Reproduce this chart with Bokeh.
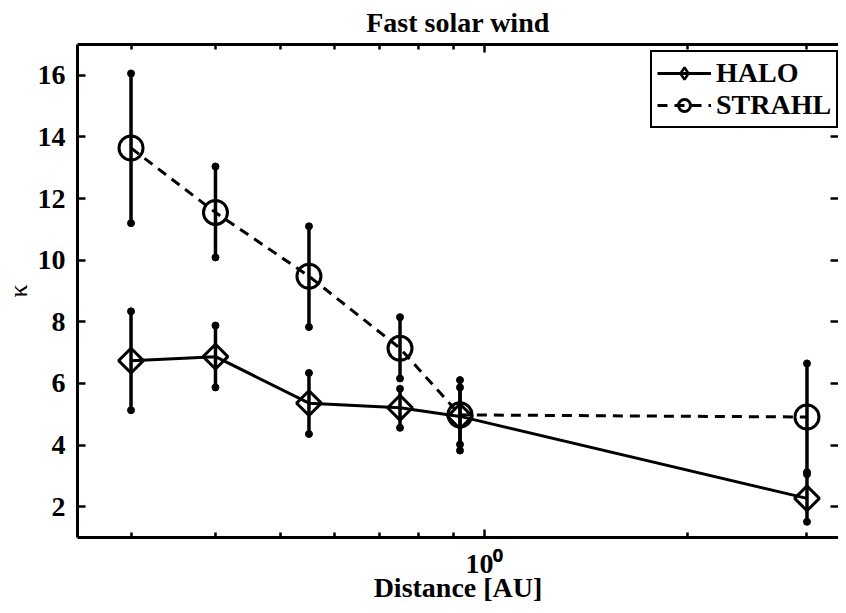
import math
from bokeh.plotting import figure
from bokeh.models import (FixedTicker, LinearAxis, LogAxis, Legend,
                          LegendItem, Range1d, ColumnDataSource)
from bokeh.embed import file_html
from bokeh.resources import INLINE

# ---------------- data ----------------
title_text = "Fast solar wind"
x_label_text = "Distance [AU]"
y_label_text = "\u03ba"
series_names = ["HALO", "STRAHL"]

distance = [0.3, 0.4, 0.55, 0.75, 0.92, 3.0]

halo_kappa = [6.74, 6.87, 5.36, 5.21, 4.93, 2.27]
halo_lower = [5.13, 5.87, 4.36, 4.56, 4.02, 1.51]
halo_upper = [8.34, 7.88, 6.34, 5.83, 5.87, 3.05]

strahl_kappa = [13.64, 11.55, 9.48, 7.14, 4.98, 4.91]
strahl_lower = [11.20, 10.09, 7.83, 6.16, 3.82, 3.12]
strahl_upper = [16.06, 13.04, 11.10, 8.15, 6.11, 6.65]

y_ticks = [2, 4, 6, 8, 10, 12, 14, 16]
x_major_ticks = [1]
x_major_labels = ["10\u2070"]
x_minor_ticks = [0.3, 0.4, 0.5, 0.6, 0.7, 0.8, 0.9, 2, 3]

x_start, x_end = 0.25, 3.34
y_start, y_end = 1, 17

FONT = "Liberation Serif"
FS = "28px"

p = figure(width=838, height=605, x_axis_type="log",
           x_range=Range1d(x_start, x_end), y_range=Range1d(y_start, y_end),
           output_backend="svg", toolbar_location=None,
           min_border_left=76, min_border_right=0,
           min_border_top=44, min_border_bottom=68)
p.outline_line_color = None
p.grid.visible = False
p.background_fill_color = "white"
p.border_fill_color = "white"

p.title.text = title_text
p.title.align = "center"
p.title.vertical_align = "top"
p.title.text_font = FONT
p.title.text_font_style = "bold"
p.title.text_font_size = FS
p.title.text_color = "black"
p.title.standoff = 10


def style_axis(ax, show_labels=True, show_line=True):
    ax.axis_line_width = 3
    ax.axis_line_color = "black" if show_line else None
    ax.major_tick_in = 8
    ax.major_tick_out = 0
    ax.minor_tick_in = 5
    ax.minor_tick_out = 0
    ax.major_tick_line_width = 2.5
    ax.minor_tick_line_width = 2.5
    ax.major_tick_line_color = "black"
    ax.minor_tick_line_color = "black"
    ax.major_label_text_font = FONT
    ax.major_label_text_font_style = "bold"
    ax.major_label_text_color = "black"
    ax.axis_label_text_font = FONT
    ax.axis_label_text_font_style = "bold"
    ax.axis_label_text_font_size = FS
    ax.axis_label_text_color = "black"
    if show_labels:
        ax.major_label_text_font_size = FS
    else:
        ax.major_label_text_font_size = "1px"
        ax.major_label_text_alpha = 0
        ax.major_label_standoff = 0


xticker = FixedTicker(ticks=x_major_ticks, minor_ticks=x_minor_ticks)
yticker = FixedTicker(ticks=y_ticks, minor_ticks=[])

xb = p.xaxis[0]
xb.ticker = xticker
style_axis(xb)
xb.major_label_overrides = dict(zip(x_major_ticks, x_major_labels))
xb.major_label_standoff = 10
xb.axis_label = x_label_text
xb.axis_label_standoff = -10

yl = p.yaxis[0]
yl.ticker = yticker
style_axis(yl)
yl.major_label_standoff = 12
yl.axis_label = y_label_text
yl.axis_label_standoff = 2
yl.axis_label_text_font_style = "normal"
yl.axis_label_text_font_size = "26px"

xt = LogAxis(ticker=FixedTicker(ticks=x_major_ticks, minor_ticks=x_minor_ticks))
style_axis(xt, show_labels=False)
p.add_layout(xt, "above")

yr = LinearAxis(ticker=FixedTicker(ticks=y_ticks, minor_ticks=[]))
style_axis(yr, show_labels=False, show_line=False)
p.add_layout(yr, "right")

# ---------------- error bars ----------------
for lo, hi in ((halo_lower, halo_upper), (strahl_lower, strahl_upper)):
    p.segment(x0=distance, y0=lo, x1=distance, y1=hi,
              line_color="black", line_width=3.5)
    p.scatter(distance + distance, lo + hi, marker="circle", size=7,
              fill_color="black", line_color="black")

# ---------------- series ----------------
halo_src = ColumnDataSource(dict(x=distance, y=halo_kappa))
halo_line = p.line("x", "y", source=halo_src, line_color="black", line_width=3)
halo_mark = p.scatter("x", "y", source=halo_src, marker="square",
                      angle=math.pi / 4, size=17.5, fill_color=None,
                      line_color="black", line_width=3)
# zero-size diamond on the same data: invisible in the plot, gives the legend its diamond
halo_proxy = p.scatter("x", "y", source=halo_src, marker="diamond", size=0,
                       fill_color=None, line_color="black", line_width=2.5)

strahl_line = p.line(distance, strahl_kappa, line_color="black", line_width=3,
                     line_dash="10 7")
strahl_mark = p.scatter(distance, strahl_kappa, marker="circle", size=24,
                        fill_color=None, line_color="black", line_width=3)

legend = Legend(items=[
    LegendItem(label=series_names[0], renderers=[halo_line, halo_proxy]),
    LegendItem(label=series_names[1], renderers=[strahl_line, strahl_mark]),
], location=(573, 409))
legend.margin = 0
legend.padding = 5
legend.spacing = 0
legend.glyph_width = 54
legend.glyph_height = 30
legend.label_height = 30
legend.label_standoff = 5
legend.label_text_font = FONT
legend.label_text_font_style = "bold"
legend.label_text_font_size = FS
legend.label_text_color = "black"
legend.border_line_color = "black"
legend.border_line_alpha = 1
legend.border_line_width = 2.5
legend.background_fill_color = "white"
legend.background_fill_alpha = 1
p.add_layout(legend)

open("out.html", "w").write(file_html(p, INLINE))
